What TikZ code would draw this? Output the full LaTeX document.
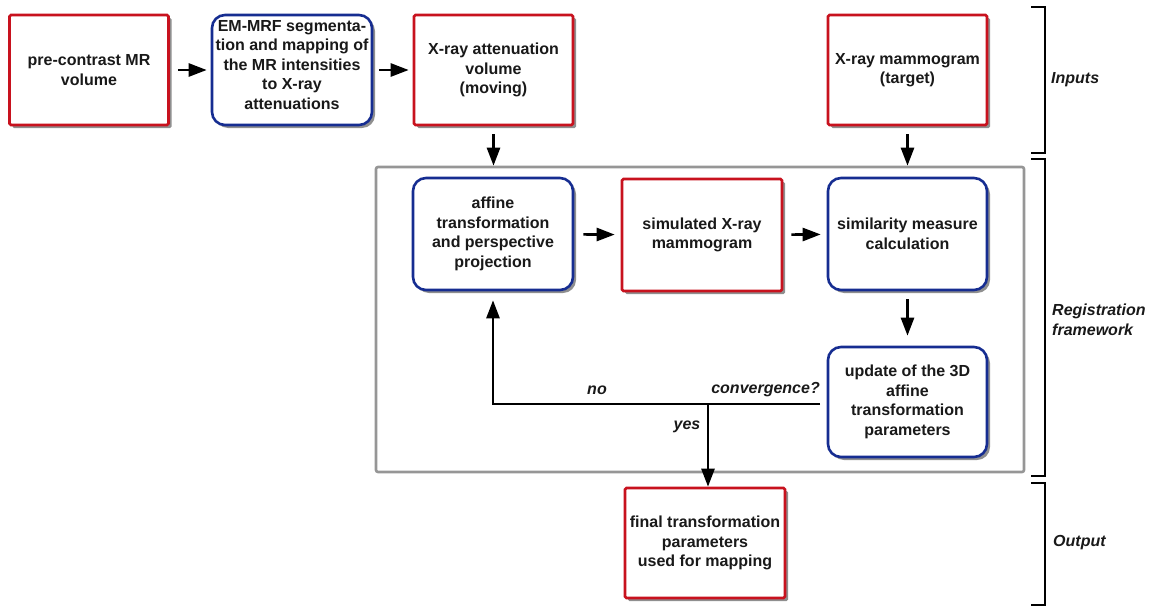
\documentclass[tikz,border=0pt]{standalone}
\usepackage{fontspec}
\setmainfont{Liberation Sans}
\usetikzlibrary{arrows.meta,shadows,calc}
\definecolor{boxred}{RGB}{200,18,30}
\definecolor{boxblue}{RGB}{22,45,145}
\definecolor{framegray}{RGB}{150,150,150}
\definecolor{txt}{RGB}{25,25,25}
\begin{document}
\begin{tikzpicture}[x=1pt,y=-1pt,
  base/.style={minimum width=159pt,minimum height=110pt,inner sep=2pt,align=center,
    text=txt,font=\fontsize{16}{19.5}\selectfont\bfseries,line width=2.6pt,fill=white,
    drop shadow={shadow xshift=3pt,shadow yshift=-3pt,fill=black!55,opacity=0.8}},
  redbox/.style={base,draw=boxred,rounded corners=1.5pt},
  bluebox/.style={base,draw=boxblue,rounded corners=13pt},
  arr/.style={line width=2.6pt,-{Triangle[length=18pt,width=13pt]}},
  lbl/.style={font=\fontsize{16}{19}\selectfont\bfseries\itshape,text=txt,inner sep=0pt},
  brk/.style={line width=2.6pt,line join=miter}]
\useasboundingbox (0,0) rectangle (1152,608);

\node[draw=framegray,line width=2.6pt,rounded corners=2pt,minimum width=648pt,minimum height=305pt] (frame) at (700,319.5) {};

\node[redbox] (pre) at (89,70) {pre-contrast MR\\volume};
\node[bluebox,minimum width=160pt] (em) at (292,70) {EM-MRF segmenta-\\tion and mapping of\\the MR intensities\\to X-ray\\attenuations\\[-9pt]};
\node[redbox] (att) at (493.5,70) {X-ray attenuation\\volume\\(moving)};
\node[redbox] (tgt) at (907.5,70) {X-ray mammogram\\(target)};

\node[bluebox,minimum width=160pt,minimum height=112pt] (aff) at (493,234) {affine\\transformation\\and perspective\\projection};
\node[redbox,minimum width=160pt,minimum height=112pt] (sim) at (702,235) {simulated X-ray\\mammogram};
\node[bluebox,minimum height=112pt] (simm) at (907.5,234) {similarity measure\\calculation};
\node[bluebox] (upd) at (907.5,402) {update of the 3D\\affine\\transformation\\parameters};
\node[redbox,minimum width=160pt] (fin) at (705,543) {final transformation\\parameters\\used for mapping};

\draw[arr,shorten <=8pt,shorten >=4pt] (pre) -- (em);
\draw[arr,shorten <=6pt,shorten >=4pt] (em) -- (att);
\draw[arr,shorten <=8pt] (att.south) -- (att.south |- frame.north);
\draw[arr,shorten <=8pt] (tgt.south) -- (tgt.south |- frame.north);
\draw[arr,shorten <=9pt,shorten >=6pt] (aff) -- (sim);
\draw[arr,shorten <=8pt,shorten >=6pt] (sim) -- (simm);
\draw[arr,shorten <=8pt,shorten >=10pt] (simm) -- (upd);

\coordinate (conv) at (820,404);
\coordinate (br) at (708,404);
\draw[arr,line join=miter,shorten >=9pt] (conv) -| (aff.south);
\draw[arr] (br) -- (br |- fin.north);

\node[lbl] (no) at (597,390) {no};
\node[lbl,anchor=east] (cv) at (820,390) {convergence?};
\node[lbl] (yes) at (687,427) {yes};

\draw[brk] (1031,7) -- (1045,7) -- (1045,153) -- (1031,153);
\draw[brk] (1031,159) -- (1045,159) -- (1045,476) -- (1031,476);
\draw[brk] (1031,483) -- (1045,483) -- (1045,605) -- (1031,605);
\node[lbl,anchor=west] (inp) at (1051,80) {Inputs};
\node[lbl,anchor=west,align=left,font=\fontsize{16}{20}\selectfont\bfseries\itshape] (reg) at (1052,320) {Registration\\framework};
\node[lbl,anchor=west] (out) at (1053,543) {Output};
\end{tikzpicture}
\end{document}
